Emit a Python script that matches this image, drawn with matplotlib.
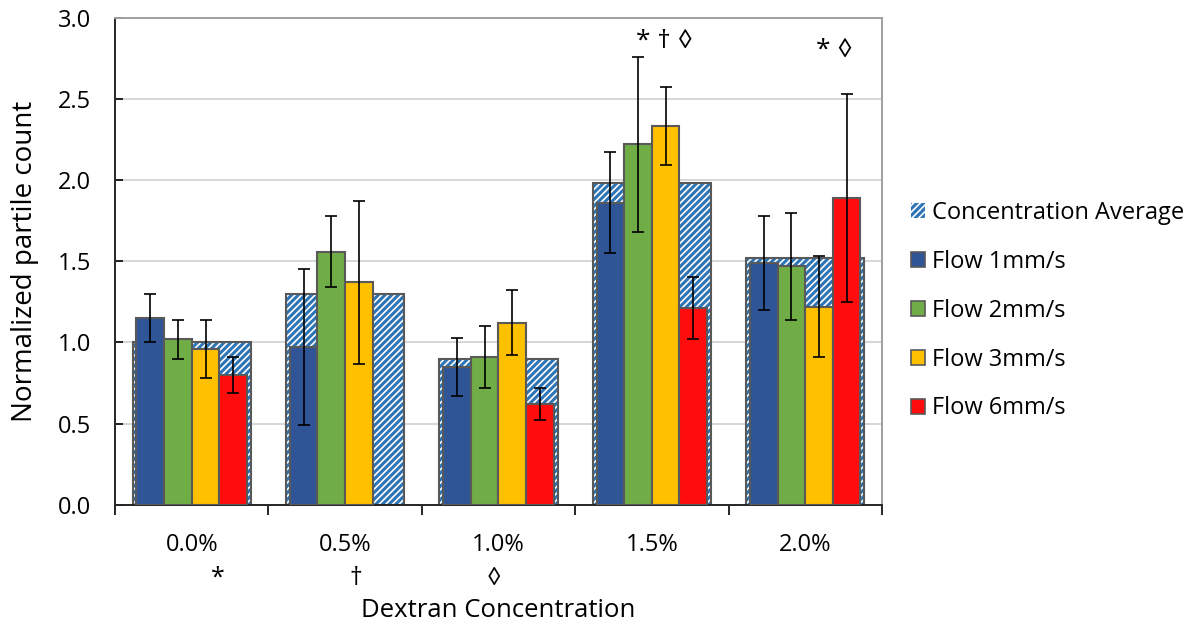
import numpy as np
import matplotlib
matplotlib.use("Agg")
import matplotlib.pyplot as plt
from matplotlib.patches import Patch
from matplotlib.transforms import blended_transform_factory

plt.rcParams['font.family'] = ['Open Sans', 'DejaVu Sans']
plt.rcParams['hatch.linewidth'] = 2.2

categories = ['0.0%', '0.5%', '1.0%', '1.5%', '2.0%']
avg = [1.00, 1.30, 0.90, 1.98, 1.52]
flow1 = [1.15, 0.97, 0.85, 1.86, 1.49]
err1 = [0.15, 0.48, 0.18, 0.31, 0.29]
flow2 = [1.02, 1.56, 0.91, 2.22, 1.47]
err2 = [0.12, 0.22, 0.19, 0.54, 0.33]
flow3 = [0.96, 1.37, 1.12, 2.33, 1.22]
err3 = [0.18, 0.50, 0.20, 0.24, 0.31]
flow6 = [0.80, np.nan, 0.62, 1.21, 1.89]
err6 = [0.11, np.nan, 0.10, 0.19, 0.64]

series_names = ['Flow 1mm/s', 'Flow 2mm/s', 'Flow 3mm/s', 'Flow 6mm/s']
series_colors = ['#2F5597', '#70AD47', '#FFC000', '#FF0D0D']

# significance markers: (category x, y, text) above bars, and under the axis
top_marks = [(3.08, 2.855, '* \u2020 \u25ca'), (4.19, 2.795, '* \u25ca')]
bottom_marks = [(0.17, '*'), (1.07, '\u2020'), (1.97, '\u25ca')]

fig = plt.figure(figsize=(11.88, 6.28), dpi=100)
ax = fig.add_axes([0.0968, 0.196, 0.6456, 0.776])

x = np.arange(len(categories))
edge = '#595959'
hatch_blue = '#2E75B6'

ax.bar(x, avg, 0.77, color='white', edgecolor=hatch_blue, hatch='/////', linewidth=0, zorder=2)
ax.bar(x, avg, 0.77, fill=False, edgecolor=edge, linewidth=1.5, zorder=2)

w = 0.18
offsets = [-1.5 * w, -0.5 * w, 0.5 * w, 1.5 * w]
for vals, errs, col, off in zip([flow1, flow2, flow3, flow6], [err1, err2, err3, err6],
                                series_colors, offsets):
    ax.bar(x + off, vals, w, color=col, edgecolor=edge, linewidth=1.5, zorder=3)
    ax.errorbar(x + off, vals, yerr=errs, fmt='none', ecolor='black', elinewidth=1.2,
                capsize=4.2, capthick=1.2, zorder=4)

ax.set_xlim(-0.5, 4.5)
ax.set_ylim(0, 3.0)
ax.set_yticks(np.arange(0, 3.01, 0.5))
ax.set_yticklabels([f'{v:.1f}' for v in np.arange(0, 3.01, 0.5)], fontsize=17)
ax.set_xticks(x)
ax.set_xticklabels(categories, fontsize=17)
ax.set_xticks(np.arange(-0.5, 4.6, 1), minor=True)
ax.tick_params(axis='x', which='major', length=0, pad=20)
ax.tick_params(axis='x', which='minor', length=7, width=1.2, direction='out')
ax.tick_params(axis='y', length=6, width=1.2, direction='in', pad=17)

ax.yaxis.grid(True, color='#D0D0D0', linewidth=1.2)
ax.set_axisbelow(True)

for s in ['left', 'bottom']:
    ax.spines[s].set_color('#262626')
    ax.spines[s].set_linewidth(1.4)
for s in ['top', 'right']:
    ax.spines[s].set_color('#A0A0A0')
    ax.spines[s].set_linewidth(1.4)

ax.set_ylabel('Normalized partile count', fontsize=20, labelpad=14)
ax.set_xlabel('Dextran Concentration', fontsize=18.5, labelpad=30)

for xx, yy, t in top_marks:
    ax.text(xx, yy, t, ha='center', va='center', fontsize=19)
trans = blended_transform_factory(ax.transData, ax.transAxes)
for xx, t in bottom_marks:
    ax.text(xx, -0.15, t, transform=trans, ha='center', va='center', fontsize=18)

handles = [Patch(facecolor='white', edgecolor=hatch_blue, hatch='/////', linewidth=0)]
handles += [Patch(facecolor=c, edgecolor=edge, linewidth=1.2) for c in series_colors]
labels = ['Concentration Average'] + series_names
fig.legend(handles, labels, loc='center left', bbox_to_anchor=(0.767, 0.505),
           frameon=False, fontsize=17, handlelength=0.6, handleheight=0.6,
           handletextpad=0.3, labelspacing=1.05, borderaxespad=0, borderpad=0)

fig.savefig('out.png', dpi=100)
